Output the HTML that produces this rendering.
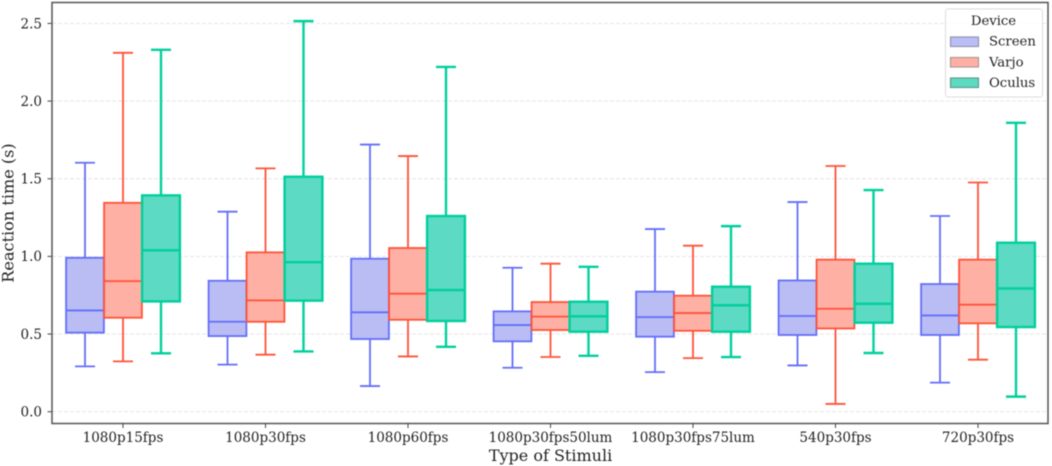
<!DOCTYPE html>
<html>
<head>
<meta charset="utf-8">
<style>
html,body{margin:0;padding:0;background:#fff;width:1052px;height:466px;overflow:hidden}
svg{display:block;font-family:"DejaVu Serif","Liberation Serif",serif;filter:blur(0.5px)}
text{fill:#222}
</style>
</head>
<body>
<svg id="chart" width="1052" height="466" viewBox="0 0 1052 466" xmlns="http://www.w3.org/2000/svg">
  <g id="grid"></g>
  <g id="boxes"></g>
  <g id="axes"></g>
  <text transform="translate(13.5,213) rotate(-90)" text-anchor="middle" font-size="16.1">Reaction time (s)</text>
  <text x="550.5" y="461" text-anchor="middle" font-size="16">Type of Stimuli</text>
  <g>
    <rect x="945.5" y="9" width="97" height="88" rx="2.5" fill="#fff" fill-opacity="0.85" stroke="#dcdcdc" stroke-width="1"/>
    <text x="993.5" y="25" text-anchor="middle" font-size="13.2">Device</text>
    <g>
      <rect x="950.5" y="37" width="28" height="9.5" fill="#b9bef7" stroke="#8f90a8" stroke-width="1.1"/>
      <text x="989" y="45.5" font-size="13.2">Screen</text>
    </g>
    <g>
      <rect x="950.5" y="57.5" width="28" height="9.5" fill="#ffb0a4" stroke="#a89490" stroke-width="1.1"/>
      <text x="989" y="66.5" font-size="13.2">Varjo</text>
    </g>
    <g>
      <rect x="950.5" y="78" width="28" height="9.5" fill="#5cdbc0" stroke="#5f9488" stroke-width="1.1"/>
      <text x="989" y="87" font-size="13.2">Oculus</text>
    </g>
  </g>
</svg>
<script>
const categories = ["1080p15fps","1080p30fps","1080p60fps","1080p30fps50lum","1080p30fps75lum","540p30fps","720p30fps"];
const yTicks = [0, 0.5, 1, 1.5, 2, 2.5];
const yTickLabels = ["0.0","0.5","1.0","1.5","2.0","2.5"];

const screenHigh = [1.603,1.288,1.72,0.927,1.176,1.35,1.26];
const screenQ3 = [0.991,0.843,0.985,0.646,0.773,0.845,0.822];
const screenMedian = [0.652,0.579,0.64,0.558,0.609,0.616,0.62];
const screenQ1 = [0.509,0.487,0.468,0.453,0.483,0.494,0.494];
const screenLow = [0.292,0.303,0.165,0.283,0.255,0.298,0.187];

const varjoHigh = [2.311,1.567,1.646,0.953,1.069,1.582,1.476];
const varjoQ3 = [1.345,1.026,1.054,0.706,0.747,0.979,0.979];
const varjoMedian = [0.841,0.717,0.76,0.612,0.635,0.663,0.689];
const varjoQ1 = [0.605,0.579,0.592,0.526,0.521,0.536,0.569];
const varjoLow = [0.324,0.367,0.356,0.352,0.345,0.05,0.335];

const oculusHigh = [2.33,2.515,2.22,0.933,1.195,1.427,1.86];
const oculusQ3 = [1.393,1.513,1.26,0.708,0.805,0.953,1.088];
const oculusMedian = [1.039,0.963,0.783,0.614,0.685,0.695,0.794];
const oculusQ1 = [0.71,0.715,0.584,0.515,0.515,0.573,0.545];
const oculusLow = [0.376,0.388,0.418,0.36,0.352,0.378,0.097];

const NS = "http://www.w3.org/2000/svg";
const plotLeft = 52, plotRight = 1048, plotTop = 2.5, plotBottom = 423.5;
function yScale(v){ return 411.7 - v * 155.3; }
function xScale(i){ return 123 + i * 142.5; }
function make(tag, attrs, parent){
  const el = document.createElementNS(NS, tag);
  for (const k in attrs) el.setAttribute(k, attrs[k]);
  parent.appendChild(el);
  return el;
}

const gridG = document.getElementById("grid");
const axesG = document.getElementById("axes");
const boxesG = document.getElementById("boxes");

yTicks.forEach(function(t, i){
  const y = yScale(t);
  const g = make("line", {x1: plotLeft, x2: plotRight, y1: y, y2: y, stroke: "#e2e2e2", "stroke-width": 0.9, "stroke-dasharray": "4 2"}, gridG);
  
  
  const tick = make("line", {x1: plotLeft - 4.5, x2: plotLeft, y1: y, y2: y, stroke: "#444", "stroke-width": 1}, axesG);
  
  
  const label = make("text", {x: plotLeft - 10, y: y + 4.8, "text-anchor": "end", "font-size": 13.5}, axesG);
  
  
  label.textContent = yTickLabels[i];
});

const frame = make("rect", {x: plotLeft, y: plotTop, width: plotRight - plotLeft, height: plotBottom - plotTop, fill: "none", stroke: "#555", "stroke-width": 1.5}, axesG);



categories.forEach(function(c, i){
  const x = xScale(i);
  const tick = make("line", {x1: x, x2: x, y1: plotBottom, y2: plotBottom + 4.5, stroke: "#444", "stroke-width": 1}, axesG);
  
  
  const label = make("text", {x: x, y: 442, "text-anchor": "middle", "font-size": 13.5}, axesG);
  
  
  label.textContent = c;
});

const boxHalf = 18.9, capHalf = 10, groupOffset = 38;

function drawSeries(name, offset, color, fill, sw, high, q3, med, q1, low){
  categories.forEach(function(c, i){
    const cx = xScale(i) + offset;
    const g = make("g", {}, boxesG);
    
    
    const stroke = {stroke: color, "stroke-width": sw};
    make("line", Object.assign({x1: cx, x2: cx, y1: yScale(high[i]), y2: yScale(q3[i])}, stroke), g);
    make("line", Object.assign({x1: cx, x2: cx, y1: yScale(q1[i]), y2: yScale(low[i])}, stroke), g);
    make("line", Object.assign({x1: cx - capHalf, x2: cx + capHalf, y1: yScale(high[i]), y2: yScale(high[i])}, stroke), g);
    make("line", Object.assign({x1: cx - capHalf, x2: cx + capHalf, y1: yScale(low[i]), y2: yScale(low[i])}, stroke), g);
    make("rect", Object.assign({x: cx - boxHalf, y: yScale(q3[i]), width: boxHalf * 2, height: yScale(q1[i]) - yScale(q3[i]), fill: fill}, stroke), g);
    make("line", Object.assign({x1: cx - boxHalf, x2: cx + boxHalf, y1: yScale(med[i]), y2: yScale(med[i])}, stroke), g);
  });
}
drawSeries("screen", -groupOffset, "#636efa", "#b9bdf4", 1.8, screenHigh, screenQ3, screenMedian, screenQ1, screenLow);
drawSeries("varjo", 0, "#ff5238", "#ffb0a4", 1.8, varjoHigh, varjoQ3, varjoMedian, varjoQ1, varjoLow);
drawSeries("oculus", groupOffset, "#00cf9c", "#5cdac3", 2.4, oculusHigh, oculusQ3, oculusMedian, oculusQ1, oculusLow);
</script>
</body>
</html>
